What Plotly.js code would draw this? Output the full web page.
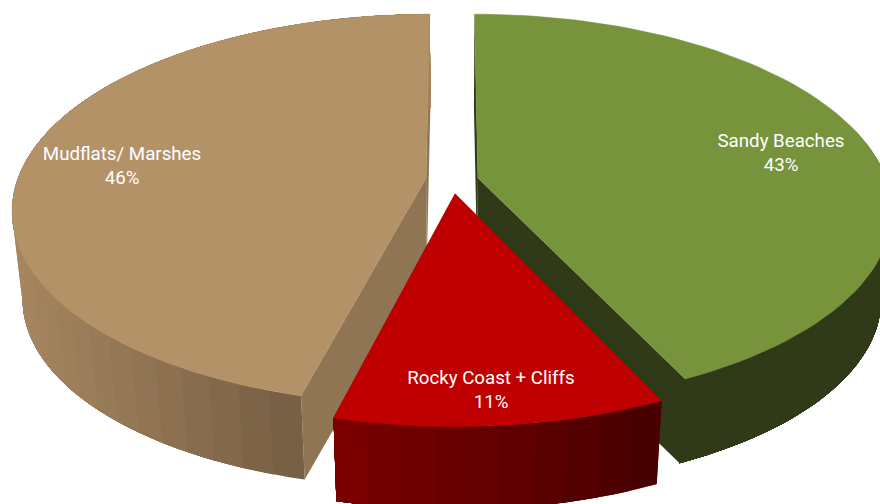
<!DOCTYPE html>
<html>
<head>
<meta charset="utf-8">
<script src="https://cdn.plot.ly/plotly-3.0.1.min.js"></script>
<style>html,body{margin:0;padding:0;background:#fff}#chart{width:880px;height:504px}</style>
</head>
<body>
<div id="chart"></div>
<script>
// Coastline composition by type, in clockwise order from twelve o'clock.
const categories = ["Sandy Beaches", "Rocky Coast + Cliffs", "Mudflats/ Marshes"];
const shares = [43, 11, 46];

// Surface and side colours per slice.
const topColors = ["#77933c", "#bf0000", "#b49268"];
const faceColors = ["#303a18", "#600000", "#8f7554"];
const rimFrom = [[48, 58, 24], [122, 0, 0], [166, 134, 96]];
const rimTo = [[48, 58, 24], [72, 0, 0], [120, 96, 68]];

// Explosion offset of each slice in the pie plane, and label centres on screen.
const offsetU = [0.061, 0.005, -0.066];
const offsetV = [0, -0.082, 0];
const labelX = [781, 491, 122];
const labelY = [154, 391, 167];
const LINE_GAP = 12;

// Perspective camera: disc centre, radii, foreshortening, and the extruded base.
const CX = 453, CY = 178, AX = 408, AY = 190, P = 0.16;
const BASE_SCALE = 0.976, BASE_DROP = 89;

function project(u, v, atBase) {
  const k = 1 / (1 + P * v);
  let x = CX + AX * u * k, y = CY - AY * v * k;
  if (atBase) {
    x = CX + (x - CX) * BASE_SCALE;
    y = CY + (y - CY) * BASE_SCALE + BASE_DROP;
  }
  return [x, y];
}

function polygon(points, color, edgeWidth) {
  const ring = points.concat([points[0]]);
  return {
    type: "scatter", mode: "lines", fill: "toself", fillcolor: color,
    x: ring.map(p => p[0]), y: ring.map(p => p[1]),
    line: {color: color, width: edgeWidth}, hoverinfo: "skip", showlegend: false
  };
}

function mix(a, b, t) {
  t = Math.max(0, Math.min(1, t));
  return "rgb(" + a.map((c, i) => Math.round(c + (b[i] - c) * t)).join(",") + ")";
}

const total = shares.reduce((s, v) => s + v, 0);
const traces = [];
const nameLine = {x: [], y: [], text: []};
const percentLine = {x: [], y: [], text: []};
const STEP = Math.PI / 90;

const slices = [];
let start = 0;
shares.forEach((share, i) => {
  const sweep = share / total * 2 * Math.PI;
  slices.push({i, a0: start, a1: start + sweep});
  start += sweep;
});

// Back to front: the mudflats and the sandy beaches sit behind the rocky slice.
[2, 0, 1].forEach(idx => {
  const {i, a0, a1} = slices[idx];
  const du = offsetU[i], dv = offsetV[i];
  const onRim = (a, base) => project(du + Math.sin(a), dv + Math.cos(a), base);
  const apex = base => project(du, dv, base);

  // Flat cut faces running from the apex out to the rim.
  [a0, a1].forEach(a => {
    traces.push(polygon([apex(false), onRim(a, false), onRim(a, true), apex(true)], faceColors[i], 0));
  });

  // Curved outer wall: each band reaches to the end of the arc and the next one
  // paints over it, so no background can show between neighbouring shades.
  const bandCount = Math.max(1, Math.round((a1 - a0) / (STEP * 2)));
  const visible = [];
  for (let b = 0; b < bandCount; b++) {
    if (Math.cos(a0 + (a1 - a0) * (b + 0.5) / bandCount) < 0.25) visible.push(b);
  }
  const midX = visible.map(b => onRim(a0 + (a1 - a0) * (b + 0.5) / bandCount, false)[0]);
  const xMin = Math.min(...midX), xMax = Math.max(...midX);
  visible.forEach((b, order) => {
    const from = a0 + (a1 - a0) * b / bandCount;
    const steps = Math.max(1, Math.ceil((a1 - from) / STEP));
    const upper = [], lower = [];
    for (let s = 0; s <= steps; s++) {
      const a = from + (a1 - from) * s / steps;
      upper.push(onRim(a, false));
      lower.unshift(onRim(a, true));
    }
    const t = (midX[order] - xMin) / (xMax - xMin);
    traces.push(polygon(upper.concat(lower), mix(rimFrom[i], rimTo[i], t), 0));
  });

  // Top surface of the slice.
  const surface = [apex(false)];
  const n = Math.ceil((a1 - a0) / STEP);
  for (let s = 0; s <= n; s++) surface.push(onRim(a0 + (a1 - a0) * s / n, false));
  traces.push(polygon(surface, topColors[i], 0.5));

  nameLine.x.push(labelX[i]);
  nameLine.y.push(labelY[i] - LINE_GAP);
  nameLine.text.push(categories[i]);
  percentLine.x.push(labelX[i]);
  percentLine.y.push(labelY[i] + LINE_GAP);
  percentLine.text.push(shares[i] + "%");
});

[nameLine, percentLine].forEach(line => {
  traces.push({
    type: "scatter", mode: "text", x: line.x, y: line.y, text: line.text,
    textposition: "middle center", hoverinfo: "skip", showlegend: false,
    textfont: {family: "Roboto, Liberation Sans, Arial, sans-serif", size: 18.7, color: "#ffffff"}
  });
});

const hiddenAxis = {visible: false, fixedrange: true, showgrid: false, zeroline: false};
Plotly.newPlot("chart", traces, {
  width: 880, height: 504, showlegend: false,
  margin: {l: 0, r: 0, t: 0, b: 0},
  paper_bgcolor: "#ffffff", plot_bgcolor: "#ffffff",
  xaxis: Object.assign({range: [0, 880]}, hiddenAxis),
  yaxis: Object.assign({range: [504, 0]}, hiddenAxis)
}, {displayModeBar: false, staticPlot: true});
</script>
</body>
</html>
